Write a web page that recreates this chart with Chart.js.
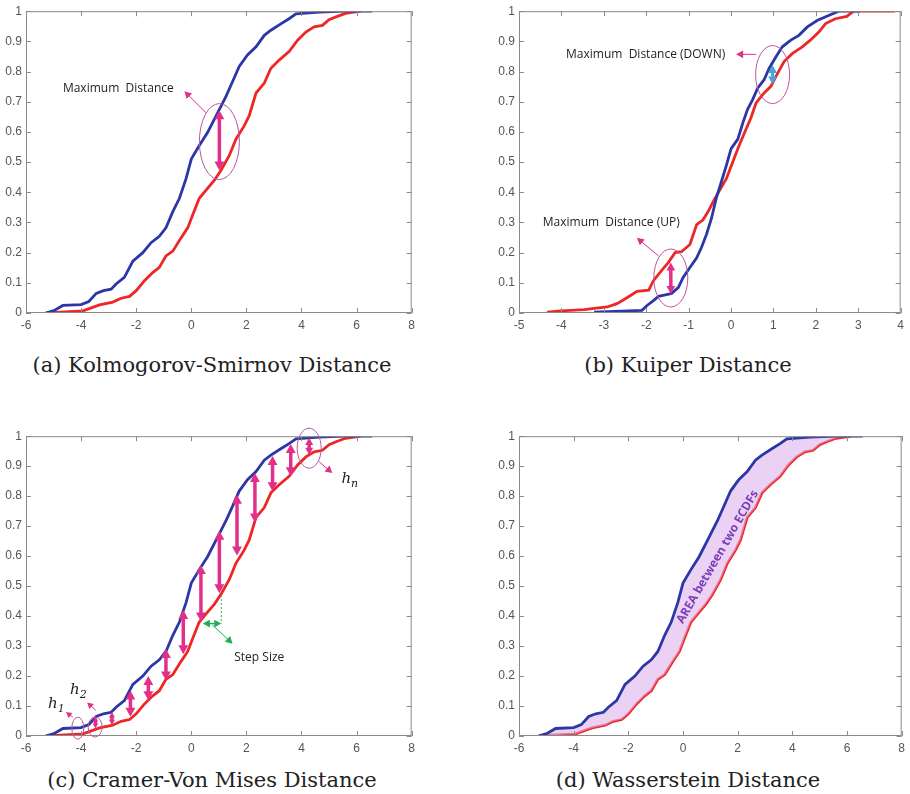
<!DOCTYPE html>
<html>
<head>
<meta charset="utf-8">
<script src="https://cdn.jsdelivr.net/npm/chart.js@4.4.1/dist/chart.umd.min.js"></script>
<style>
    body { margin: 0; background: #fff; width: 910px; height: 794px; position: relative; overflow: hidden; }
    canvas { position: absolute; }
    .cap { position: absolute; font-family: "DejaVu Serif", serif; font-size: 21px; color: #222; white-space: nowrap; transform: translate(-50%, -50%); }
</style>
</head>
<body>
<canvas id="ksChart" width="420" height="330" style="left:0;top:0"></canvas>
<canvas id="kuiperChart" width="419" height="330" style="left:490px;top:0"></canvas>
<canvas id="cvmChart" width="420" height="328" style="left:0;top:425px"></canvas>
<canvas id="wassChart" width="420" height="328" style="left:490px;top:425px"></canvas>
<div class="cap" style="left:212px;top:365px">(a) Kolmogorov-Smirnov Distance</div>
<div class="cap" style="left:688px;top:365px">(b) Kuiper Distance</div>
<div class="cap" style="left:212px;top:780px">(c) Cramer-Von Mises Distance</div>
<div class="cap" style="left:688px;top:780px">(d) Wasserstein Distance</div>
<script>
// ECDF curves used in (a), (c) and (d)
const blueX = [-5.29, -4.96, -4.66, -4.0, -3.72, -3.45, -3.19, -2.91, -2.73, -2.43, -2.12, -1.76, -1.46, -1.16, -0.92, -0.67, -0.43, -0.19, 0.0, 0.29, 0.59, 0.96, 1.26, 1.5, 1.74, 2.04, 2.35, 2.65, 2.89, 3.25, 3.55, 3.8, 4.64, 5.6, 6.57];
const blueY = [0, 0.009, 0.025, 0.028, 0.038, 0.065, 0.074, 0.079, 0.096, 0.118, 0.172, 0.2, 0.233, 0.254, 0.282, 0.336, 0.38, 0.445, 0.51, 0.555, 0.598, 0.664, 0.718, 0.767, 0.817, 0.855, 0.882, 0.92, 0.937, 0.958, 0.975, 0.991, 0.997, 1.0, 1.0];
const redX = [-5.26, -3.93, -3.63, -3.33, -2.85, -2.55, -2.24, -2.0, -1.7, -1.4, -1.16, -0.92, -0.67, -0.37, -0.13, 0.05, 0.29, 0.59, 0.84, 1.08, 1.38, 1.62, 1.92, 2.1, 2.35, 2.65, 2.89, 3.19, 3.55, 3.86, 4.16, 4.46, 4.76, 5.0, 5.3, 5.6, 6.15];
const redY = [0, 0.007, 0.017, 0.027, 0.036, 0.049, 0.055, 0.074, 0.107, 0.134, 0.151, 0.189, 0.205, 0.249, 0.282, 0.325, 0.38, 0.413, 0.44, 0.473, 0.522, 0.576, 0.62, 0.653, 0.729, 0.762, 0.811, 0.838, 0.866, 0.904, 0.931, 0.948, 0.953, 0.972, 0.983, 0.993, 1.0];

// ECDF curves for the Kuiper panel (b)
const kuBlueX = [-3.23, -2.1, -1.98, -1.83, -1.71, -1.52, -1.4, -1.24, -1.13, -0.97, -0.81, -0.7, -0.58, -0.46, -0.35, -0.23, -0.11, 0.0, 0.16, 0.28, 0.39, 0.51, 0.63, 0.78, 0.9, 1.06, 1.21, 1.41, 1.6, 1.8, 2.03, 2.3, 2.54, 3.04];
const kuBlueY = [0.003, 0.009, 0.025, 0.041, 0.055, 0.061, 0.065, 0.085, 0.118, 0.151, 0.183, 0.216, 0.26, 0.314, 0.38, 0.434, 0.489, 0.544, 0.576, 0.631, 0.675, 0.707, 0.746, 0.773, 0.811, 0.849, 0.882, 0.904, 0.92, 0.948, 0.969, 0.986, 1.0, 1.0];
const kuRedX = [-4.34, -4.01, -3.46, -3.23, -2.92, -2.69, -2.53, -2.37, -2.22, -1.94, -1.83, -1.63, -1.48, -1.32, -1.17, -0.97, -0.81, -0.66, -0.54, -0.42, -0.27, -0.11, 0.04, 0.16, 0.32, 0.47, 0.59, 0.78, 0.94, 1.1, 1.25, 1.45, 1.68, 1.87, 2.07, 2.23, 2.46, 2.73, 2.89, 3.86];
const kuRedY = [0.003, 0.007, 0.011, 0.015, 0.02, 0.031, 0.044, 0.058, 0.072, 0.076, 0.107, 0.142, 0.167, 0.2, 0.203, 0.227, 0.293, 0.309, 0.336, 0.369, 0.407, 0.445, 0.5, 0.544, 0.598, 0.647, 0.696, 0.729, 0.751, 0.795, 0.833, 0.86, 0.882, 0.904, 0.931, 0.959, 0.975, 0.983, 1.0, 1.0];

// Cramer-Von Mises arrows (x, top on blue, bottom on red)
const cvmArrowX = [-3.48, -2.88, -2.21, -1.56, -0.92, -0.29, 0.35, 1.02, 1.66, 2.31, 2.95, 3.61, 4.28];
const cvmArrowTop = [0.065, 0.08, 0.152, 0.2, 0.29, 0.42, 0.57, 0.685, 0.805, 0.877, 0.934, 0.974, 0.995];
const cvmArrowBottom = [0.025, 0.036, 0.064, 0.119, 0.185, 0.273, 0.382, 0.476, 0.602, 0.712, 0.816, 0.866, 0.937];

const BLUE = "#2b37a6";
const RED = "#ee2626";
const PINK = "#e2308a";
const RING = "#b9559f";
const GREEN = "#1fae55";

function pts(xs, ys) {
    return xs.map((x, i) => ({ x: x, y: ys[i] }));
}

// Frame, inward ticks and annotations
const decor = {
    id: "decor",
    afterDatasetsDraw(chart, args, opts) {
        const ctx = chart.ctx;
        const a = chart.chartArea;
        const sx = chart.scales.x, sy = chart.scales.y;
        const P = (x, y) => [sx.getPixelForValue(x), sy.getPixelForValue(y)];
        ctx.save();
        ctx.strokeStyle = "#8a8a8a";
        ctx.lineWidth = 1;
        ctx.strokeRect(a.left + 0.5, a.top + 0.5, a.right - a.left - 1, a.bottom - a.top - 1);
        ctx.beginPath();
        sx.ticks.forEach(t => {
            const x = Math.round(sx.getPixelForValue(t.value)) + 0.5;
            ctx.moveTo(x, a.top); ctx.lineTo(x, a.top + 5);
            ctx.moveTo(x, a.bottom); ctx.lineTo(x, a.bottom - 5);
        });
        sy.ticks.forEach(t => {
            const y = Math.round(sy.getPixelForValue(t.value)) + 0.5;
            ctx.moveTo(a.left, y); ctx.lineTo(a.left + 5, y);
            ctx.moveTo(a.right, y); ctx.lineTo(a.right - 5, y);
        });
        ctx.stroke();

        (opts.items || []).forEach(it => {
            ctx.save();
            if (it.t === "text") {
                const [x, y] = P(it.x, it.y);
                ctx.translate(x, y);
                if (it.rot) ctx.rotate(it.rot * Math.PI / 180);
                ctx.font = it.font || '12px "Open Sans"';
                ctx.fillStyle = it.color || "#1e1e1e";
                ctx.textAlign = it.align || "left";
                ctx.textBaseline = "middle";
                ctx.fillText(it.s, 0, 0);
            } else if (it.t === "sub") {
                const [x, y] = P(it.x, it.y);
                ctx.fillStyle = "#222";
                ctx.textBaseline = "alphabetic";
                ctx.font = 'italic 15px "DejaVu Serif"';
                ctx.fillText("h", x, y);
                const w = ctx.measureText("h").width;
                ctx.font = 'italic 11px "DejaVu Serif"';
                ctx.fillText(it.s, x + w, y + 4);
            } else if (it.t === "ell") {
                const [x, y] = P(it.x, it.y);
                ctx.strokeStyle = RING;
                ctx.lineWidth = 1;
                ctx.beginPath();
                ctx.ellipse(x, y, it.rx, it.ry, 0, 0, Math.PI * 2);
                ctx.stroke();
            } else if (it.t === "dot") {
                const [x1, y1] = P(it.x1, it.y1), [x2, y2] = P(it.x2, it.y2);
                ctx.strokeStyle = it.color;
                ctx.setLineDash([2, 2]);
                ctx.lineWidth = 1;
                ctx.beginPath(); ctx.moveTo(x1, y1); ctx.lineTo(x2, y2); ctx.stroke();
            } else {
                // arrow (one head at end) or darrow (both ends)
                const [x1, y1] = P(it.x1, it.y1), [x2, y2] = P(it.x2, it.y2);
                drawArrow(ctx, x1, y1, x2, y2, it.color, it.w, it.head, it.t === "darrow");
            }
            ctx.restore();
        });
        ctx.restore();
    }
};

function drawArrow(ctx, x1, y1, x2, y2, color, w, head, both) {
    const len = Math.hypot(x2 - x1, y2 - y1);
    const h = Math.min(head, len / (both ? 2.4 : 1.5));
    const ux = (x2 - x1) / len, uy = (y2 - y1) / len;
    const hw = h * 0.55;
    ctx.strokeStyle = color;
    ctx.fillStyle = color;
    ctx.lineWidth = w;
    ctx.beginPath();
    ctx.moveTo(x1 + (both ? ux * h * 0.8 : 0), y1 + (both ? uy * h * 0.8 : 0));
    ctx.lineTo(x2 - ux * h * 0.8, y2 - uy * h * 0.8);
    ctx.stroke();
    const tip = (tx, ty, dx, dy) => {
        ctx.beginPath();
        ctx.moveTo(tx, ty);
        ctx.lineTo(tx - dx * h - dy * hw, ty - dy * h + dx * hw);
        ctx.lineTo(tx - dx * h + dy * hw, ty - dy * h - dx * hw);
        ctx.closePath();
        ctx.fill();
    };
    tip(x2, y2, ux, uy);
    if (both) tip(x1, y1, -ux, -uy);
}

function makeChart(id, xMin, xMax, xStep, axisW, padRight, sets, items) {
    return new Chart(document.getElementById(id), {
        type: "line",
        data: { datasets: sets },
        options: {
            responsive: false,
            animation: false,
            layout: { padding: { top: 7, right: padRight, left: 0, bottom: 0 } },
            plugins: { legend: { display: false }, tooltip: { enabled: false }, decor: { items: items } },
            elements: { point: { radius: 0 }, line: { borderWidth: 2.8, tension: 0 } },
            scales: {
                x: {
                    type: "linear", min: xMin, max: xMax,
                    grid: { display: false, drawTicks: false }, border: { display: false },
                    ticks: { stepSize: xStep, padding: 5, color: "#555", font: { family: "Liberation Sans", size: 12 }, maxRotation: 0 },
                    afterFit: s => { s.height = 17; }
                },
                y: {
                    min: 0, max: 1,
                    grid: { display: false, drawTicks: false }, border: { display: false },
                    ticks: { stepSize: 0.1, padding: 4, color: "#555", font: { family: "Liberation Sans", size: 12 },
                        callback: v => String(Number(v.toFixed(1))) },
                    afterFit: s => { s.width = axisW; }
                }
            }
        },
        plugins: [decor]
    });
}

function curves(bx, by, rx, ry, fill) {
    return [
        { data: pts(bx, by), borderColor: BLUE, fill: fill ? 1 : false, backgroundColor: "rgba(222,180,236,0.6)" },
        { data: pts(rx, ry), borderColor: RED, fill: false }
    ];
}

// (a) Kolmogorov-Smirnov
makeChart("ksChart", -6, 8, 2, 26, 7, curves(blueX, blueY, redX, redY, false), [
    { t: "text", s: "Maximum  Distance", x: -4.66, y: 0.745 },
    { t: "arrow", x1: 0.53, y1: 0.664, x2: -0.25, y2: 0.735, color: PINK, w: 1, head: 7 },
    { t: "ell", x: 1.02, y: 0.568, rx: 20, ry: 38 },
    { t: "darrow", x1: 1.02, y1: 0.672, x2: 1.02, y2: 0.472, color: PINK, w: 3.5, head: 9 }
]);

// (b) Kuiper
makeChart("kuiperChart", -5, 4, 1, 29, 7, curves(kuBlueX, kuBlueY, kuRedX, kuRedY, false), [
    { t: "text", s: "Maximum  Distance (DOWN)", x: -3.89, y: 0.857 },
    { t: "arrow", x1: 0.59, y1: 0.857, x2: 0.12, y2: 0.857, color: PINK, w: 1, head: 7 },
    { t: "ell", x: 0.98, y: 0.79, rx: 17, ry: 29 },
    { t: "darrow", x1: 0.98, y1: 0.822, x2: 0.98, y2: 0.757, color: "#45a5d8", w: 3, head: 8 },
    { t: "text", s: "Maximum  Distance (UP)", x: -4.44, y: 0.298 },
    { t: "arrow", x1: -1.71, y1: 0.189, x2: -2.22, y2: 0.249, color: PINK, w: 1, head: 7 },
    { t: "ell", x: -1.42, y: 0.116, rx: 17, ry: 29 },
    { t: "darrow", x1: -1.42, y1: 0.167, x2: -1.42, y2: 0.063, color: PINK, w: 3.5, head: 8 }
]);

// (c) Cramer-Von Mises
const cvmItems = cvmArrowX.map((x, i) => ({
    t: "darrow", x1: x, y1: cvmArrowTop[i], x2: x, y2: cvmArrowBottom[i], color: PINK, w: 3.5, head: 9
}));
cvmItems.push(
    { t: "ell", x: -4.12, y: 0.026, rx: 6, ry: 11 },
    { t: "ell", x: -3.49, y: 0.03, rx: 7, ry: 10 },
    { t: "ell", x: 4.28, y: 0.96, rx: 12, ry: 20 },
    { t: "sub", s: "1", x: -5.2, y: 0.095 },
    { t: "sub", s: "2", x: -4.4, y: 0.14 },
    { t: "sub", s: "n", x: 5.45, y: 0.845 },
    { t: "arrow", x1: -4.3, y1: 0.063, x2: -4.55, y2: 0.08, color: PINK, w: 1, head: 6 },
    { t: "arrow", x1: -3.47, y1: 0.086, x2: -3.78, y2: 0.112, color: PINK, w: 1, head: 6 },
    { t: "arrow", x1: 4.64, y1: 0.915, x2: 5.12, y2: 0.877, color: PINK, w: 1, head: 7 },
    { t: "dot", x1: 1.09, y1: 0.47, x2: 1.09, y2: 0.375, color: GREEN },
    { t: "darrow", x1: 0.42, y1: 0.375, x2: 1.09, y2: 0.375, color: GREEN, w: 1.5, head: 7 },
    { t: "arrow", x1: 0.77, y1: 0.37, x2: 1.5, y2: 0.308, color: GREEN, w: 1, head: 7 },
    { t: "text", s: "Step Size", x: 1.56, y: 0.26 }
);
makeChart("cvmChart", -6, 8, 2, 26, 7, curves(blueX, blueY, redX, redY, false), cvmItems);

// (d) Wasserstein
makeChart("wassChart", -6, 8, 2, 29, 4, curves(blueX, blueY, redX, redY, true), [
    { t: "text", s: "AREA between two ECDFs", x: 1.27, y: 0.597, rot: -60, align: "center", color: "#7b3db5", font: 'bold 12px "Open Sans"' }
]);
</script>
</body>
</html>
